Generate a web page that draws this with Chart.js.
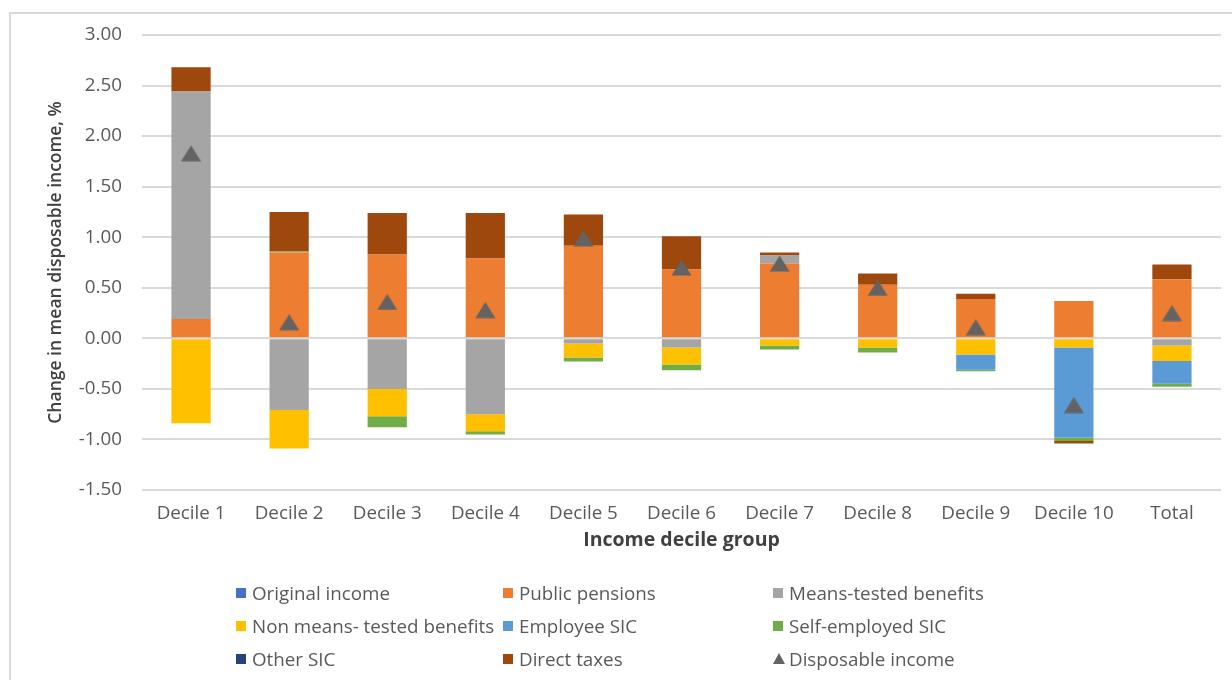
<!DOCTYPE html>
<html>
<head>
<meta charset="utf-8">
<script src="https://cdn.jsdelivr.net/npm/chart.js@4.4.0/dist/chart.umd.min.js"></script>
<style>
  html, body { margin: 0; padding: 0; background: #ffffff; overflow: hidden; }
  #wrap { position: relative; width: 1232px; height: 680px; }
  #frame { position: absolute; left: 9px; top: 12px; width: 1240px; height: 700px;
           border-left: 2px solid #d9d9d9; border-top: 2px solid #d9d9d9; pointer-events: none; }
  canvas#c { position: absolute; left: 0; top: 0; }
  .lg { position: absolute; font-family: "Open Sans", sans-serif; font-size: 18.8px; color: #595959;
        white-space: nowrap; line-height: 20px; }
  .lg .box { position: absolute; left: 0; top: 5px; width: 10px; height: 10px; }
  .lg .tri { position: absolute; left: 0; top: 4px; width: 0; height: 0;
             border-left: 6px solid transparent; border-right: 6px solid transparent; border-bottom: 11px solid #636363; }
  .lg .txt { position: absolute; left: 16px; top: 0; }
</style>
</head>
<body>
<div id="wrap">
  <canvas id="c" width="1232" height="680"></canvas>
  <div id="frame"></div>
  <div id="legend"></div>
</div>
<script>
const categories = ["Decile 1","Decile 2","Decile 3","Decile 4","Decile 5","Decile 6","Decile 7","Decile 8","Decile 9","Decile 10","Total"];
const originalIncome   = [0, 0, 0, 0, 0, 0, 0, 0, 0, 0, 0];
const publicPensions   = [0.19, 0.85, 0.83, 0.79, 0.915, 0.68, 0.74, 0.53, 0.39, 0.37, 0.585];
const meansTested      = [2.25, -0.71, -0.50, -0.75, -0.05, -0.09, 0.08, 0, 0, 0, -0.07];
const nonMeansTested   = [-0.84, -0.38, -0.27, -0.17, -0.14, -0.17, -0.07, -0.09, -0.16, -0.09, -0.155];
const employeeSIC      = [0, 0, 0, 0, 0, 0, 0, 0, -0.15, -0.89, -0.225];
const selfEmployedSIC  = [0, 0.01, -0.11, -0.03, -0.04, -0.055, -0.04, -0.05, -0.015, -0.035, -0.03];
const otherSIC         = [0, 0, 0, 0, 0, 0, 0, 0, 0, 0, 0];
const directTaxes      = [0.24, 0.39, 0.41, 0.45, 0.31, 0.33, 0.03, 0.11, 0.05, -0.025, 0.145];
const disposableIncome = [1.83, 0.16, 0.36, 0.28, 0.99, 0.70, 0.74, 0.50, 0.11, -0.66, 0.25];
const yTickMin = -1.5, yTickMax = 3.0, yTickStep = 0.5;

const seriesNames  = ["Original income","Public pensions","Means-tested benefits","Non means- tested benefits","Employee SIC","Self-employed SIC","Other SIC","Direct taxes"];
const seriesValues = [originalIncome, publicPensions, meansTested, nonMeansTested, employeeSIC, selfEmployedSIC, otherSIC, directTaxes];
const seriesColors = ["#4472C4","#ED7D31","#A5A5A5","#FFC000","#5B9BD5","#70AD47","#264478","#9E480E"];
const markerColor = "#636363";

// triangle marker, centered on its bounding box
const tri = document.createElement('canvas');
tri.width = 21; tri.height = 17;
(function(){
  const g = tri.getContext('2d');
  g.fillStyle = markerColor;
  g.beginPath(); g.moveTo(0.5, 16.5); g.lineTo(10.5, 0.5); g.lineTo(20.5, 16.5); g.closePath(); g.fill();
})();

const datasets = seriesNames.map((n, i) => ({
  type: 'bar', label: n, data: seriesValues[i], backgroundColor: seriesColors[i],
  borderWidth: 0, order: 1, categoryPercentage: 1.0, barPercentage: 0.4
}));
datasets.push({
  type: 'line', label: 'Disposable income', data: disposableIncome, showLine: false,
  pointStyle: tri, pointRadius: 10, pointHoverRadius: 10, backgroundColor: markerColor,
  borderColor: markerColor, order: 0
});

const tickFont = { family: "'Open Sans', sans-serif", size: 18.8 };

new Chart(document.getElementById('c'), {
  data: { labels: categories, datasets: datasets },
  options: {
    responsive: false, animation: false, devicePixelRatio: 1,
    layout: { padding: { top: 35, right: 11, bottom: 120, left: 0 } },
    plugins: { legend: { display: false }, tooltip: { enabled: false } },
    scales: {
      x: {
        stacked: true,
        grid: { display: false, drawTicks: false },
        border: { display: false },
        ticks: { color: '#595959', font: tickFont, padding: 12, maxRotation: 0 },
        title: { display: true, text: 'Income decile group', color: '#404040',
                 font: { family: "'Open Sans', sans-serif", size: 19.5, weight: 'bold' },
                 padding: { top: 0, bottom: 8 } },
        afterFit: s => { s.height = 70; }
      },
      y: {
        stacked: true, min: yTickMin, max: yTickMax,
        grid: { color: '#d9d9d9', lineWidth: 2, drawTicks: false },
        border: { display: false },
        ticks: { stepSize: yTickStep, color: '#595959', font: tickFont, padding: 20,
                 callback: v => Number(v).toFixed(2) },
        title: { display: true, text: 'Change in mean disposable income, %', color: '#404040',
                 font: { family: "'Open Sans', sans-serif", size: 17.5, weight: '600' },
                 padding: { top: 46, bottom: 0 } },
        afterFit: s => { s.width = 142; }
      }
    }
  }
});

// HTML legend in a 3-column grid, built from the datasets
const legend = document.getElementById('legend');
const colX = [236, 503, 773];
const rowY = [583, 616, 649];
datasets.forEach((d, i) => {
  const el = document.createElement('div');
  el.className = 'lg';
  el.style.left = colX[i % 3] + 'px';
  el.style.top = rowY[Math.floor(i / 3)] + 'px';
  const mark = document.createElement('div');
  if (d.type === 'line') { mark.className = 'tri'; }
  else { mark.className = 'box'; mark.style.background = d.backgroundColor; }
  const t = document.createElement('span');
  t.className = 'txt'; t.textContent = d.label;
  el.appendChild(mark); el.appendChild(t);
  legend.appendChild(el);
});
</script>
</body>
</html>
